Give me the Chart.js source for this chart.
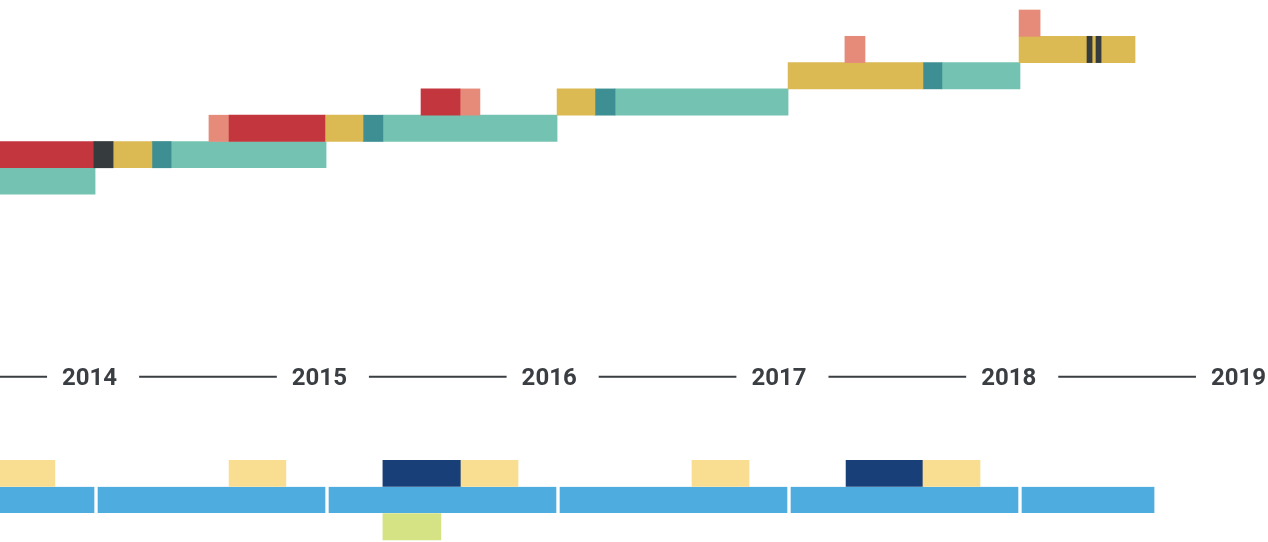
<!DOCTYPE html>
<html lang="en">
<head>
    <meta charset="UTF-8">
    <title>Timeline</title>
    <script src="https://cdn.jsdelivr.net/npm/chart.js"></script>
    <style>
        body {
            margin: 0;
            background-color: #fff;
        }
        canvas {
            display: block;
        }
    </style>
</head>
<body>
    <canvas id="timeline" width="1268" height="542"></canvas>
    <script>
        // Each bar: [start year, end year, row]. Rows 0-6 are the upper stair, 17+ sit under the year line.
        const red = [[2013.40, 2013.991, 5], [2014.576, 2014.991, 4], [2015.407, 2015.576, 3]];
        const salmon = [[2014.489, 2014.576, 4], [2015.576, 2015.662, 3], [2017.242, 2017.329, 1], [2017.996, 2018.087, 0]];
        const charcoal = [[2013.991, 2014.074, 5], [2018.290, 2018.312, 1], [2018.329, 2018.351, 1]];
        const gold = [[2014.074, 2014.242, 5], [2014.991, 2015.156, 4], [2015.996, 2016.160, 3], [2016.996, 2017.580, 2], [2017.996, 2018.498, 1]];
        const darkTeal = [[2014.242, 2014.325, 5], [2015.156, 2015.242, 4], [2016.160, 2016.247, 3], [2017.580, 2017.662, 2]];
        const teal = [[2013.40, 2013.996, 6], [2014.325, 2014.996, 5], [2015.242, 2015.996, 4], [2016.247, 2016.996, 3], [2017.662, 2018.000, 2]];

        const paleYellow = [[2013.576, 2013.822, 17.12], [2014.576, 2014.822, 17.12], [2015.580, 2015.827, 17.12], [2016.580, 2016.827, 17.12], [2017.580, 2017.827, 17.12]];
        const navy = [[2015.242, 2015.580, 17.12], [2017.247, 2017.580, 17.12]];
        const blue = [[2013.0, 2014.0, 18.13], [2014.0, 2015.0, 18.13], [2015.0, 2016.0, 18.13], [2016.0, 2017.0, 18.13], [2017.0, 2018.0, 18.13], [2018.0, 2018.589, 18.13]];
        const lime = [[2015.242, 2015.493, 19.15]];

        const years = ['2014', '2015', '2016', '2017', '2018', '2019'];
        const AXIS_ROW = 13.45;

        function toPoints(list) {
            return list.map(b => ({ x: [b[0], b[1]], y: b[2] }));
        }

        // first dataset is drawn on top
        const datasets = [
            { label: 'charcoal', data: toPoints(charcoal), backgroundColor: '#363b3e' },
            { label: 'red', data: toPoints(red), backgroundColor: '#c3363e' },
            { label: 'salmon', data: toPoints(salmon), backgroundColor: '#e68a7a' },
            { label: 'gold', data: toPoints(gold), backgroundColor: '#dbb953' },
            { label: 'darkTeal', data: toPoints(darkTeal), backgroundColor: '#3d8f93' },
            { label: 'teal', data: toPoints(teal), backgroundColor: '#74c3b2' },
            { label: 'paleYellow', data: toPoints(paleYellow), backgroundColor: '#f9de91' },
            { label: 'navy', data: toPoints(navy), backgroundColor: '#183f77' },
            {
                label: 'blue', data: toPoints(blue), backgroundColor: '#4facdf',
                borderColor: '#ffffff', borderWidth: { left: 2, right: 2, top: 0, bottom: 0 }, borderSkipped: false
            },
            { label: 'lime', data: toPoints(lime), backgroundColor: '#d6e384' }
        ];

        // year line with labels, placed through the hidden "years" scale
        const yearAxis = {
            id: 'yearAxis',
            afterDatasetsDraw(chart) {
                const ctx = chart.ctx;
                const sx = chart.scales.years;
                const y = chart.scales.y.getPixelForValue(AXIS_ROW);
                ctx.save();
                ctx.font = 'bold 24px Roboto';
                ctx.fillStyle = '#3a3e42';
                ctx.strokeStyle = '#3a3e42';
                ctx.lineWidth = 2;
                ctx.textAlign = 'center';
                ctx.textBaseline = 'alphabetic';
                let prevRight = chart.chartArea.left - 22;
                years.forEach(label => {
                    const x = sx.getPixelForValue(Number(label));
                    const w = ctx.measureText(label).width;
                    ctx.beginPath();
                    ctx.moveTo(prevRight + 22, y);
                    ctx.lineTo(x - w / 2 - 15, y);
                    ctx.stroke();
                    ctx.fillText(label, x, y + 8);
                    prevRight = x + w / 2;
                });
                ctx.restore();
            }
        };

        const noTicks = scale => { scale.ticks = []; };

        new Chart(document.getElementById('timeline'), {
            type: 'bar',
            data: { datasets: datasets },
            options: {
                responsive: false,
                animation: false,
                indexAxis: 'y',
                layout: { padding: 0 },
                datasets: {
                    bar: { grouped: false, barPercentage: 1, categoryPercentage: 1 }
                },
                plugins: {
                    legend: { display: false },
                    tooltip: { enabled: false }
                },
                scales: {
                    x: { type: 'linear', display: false, min: 2013.5844, max: 2019.0736, bounds: 'data' },
                    years: { type: 'linear', axis: 'x', position: 'bottom', display: false, min: 2013.6101, max: 2019.1284, bounds: 'data' },
                    y: { type: 'linear', display: false, reverse: true, min: -0.88, max: 19.73, bounds: 'data', afterBuildTicks: noTicks }
                }
            },
            plugins: [yearAxis]
        });
    </script>
</body>
</html>
